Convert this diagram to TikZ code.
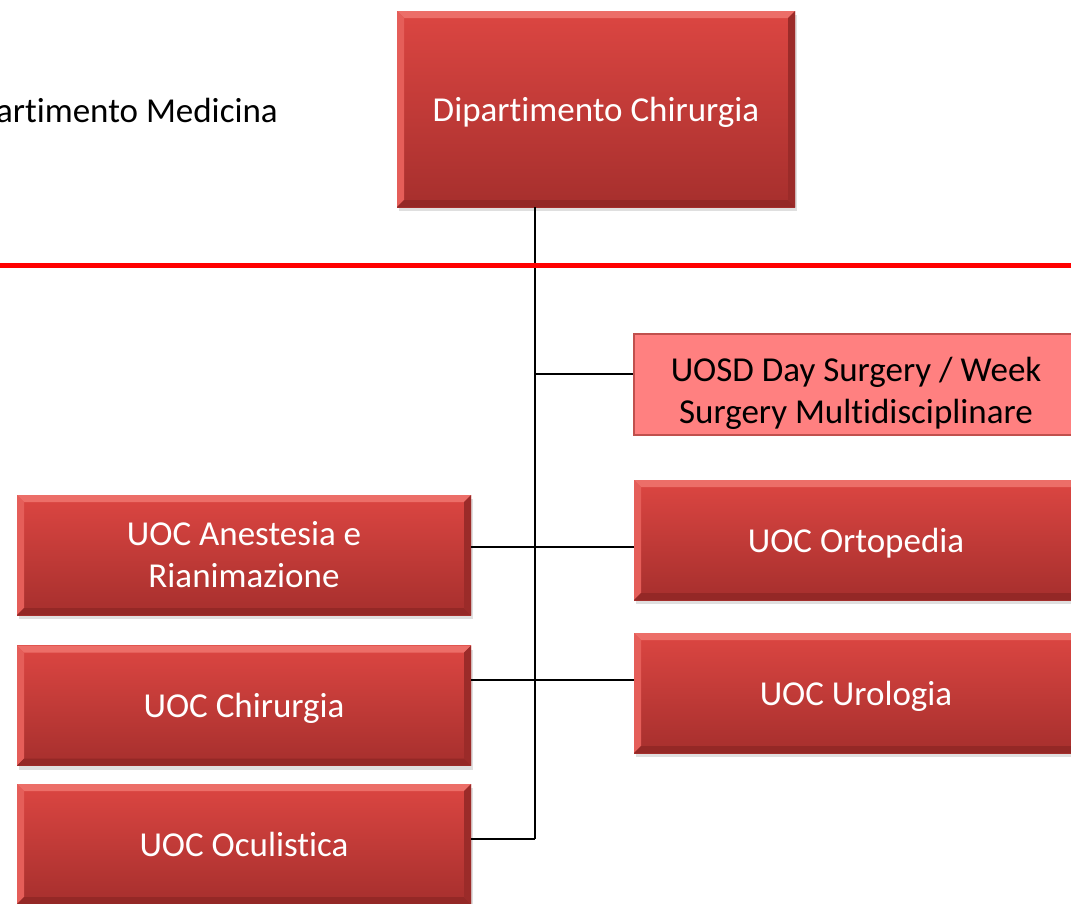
\documentclass[tikz,border=0pt]{standalone}
\usepackage{fontspec}
\setmainfont{Carlito}[Ligatures={NoCommon}]
\usetikzlibrary{shadows}

\definecolor{boxtop}{RGB}{220,70,66}
\definecolor{boxbottom}{RGB}{166,47,45}
\definecolor{bevlight}{RGB}{236,110,104}
\definecolor{bevdark}{RGB}{148,40,38}
\definecolor{uosdfill}{RGB}{255,128,128}
\definecolor{uosdline}{RGB}{192,80,77}

\begin{document}
\begin{tikzpicture}[
    x=1pt, y=-1pt, % pixel grid of the slide, y downwards
    txt/.style={font=\fontsize{35}{42}\selectfont, align=center, inner sep=0pt},
    oneline/.style={text height=24pt, text depth=0pt},
    unit/.style={txt, rectangle, text=white,
        top color=boxtop, bottom color=boxbottom,
        drop shadow={shadow xshift=2pt, shadow yshift=-4pt, opacity=0.25},
        path picture={
            % light bevel on top and left, dark on bottom and right
            \fill[bevlight] (path picture bounding box.north west) -- (path picture bounding box.north east)
                -- ([shift={(-7pt,-7pt)}]path picture bounding box.north east) -- ([shift={(7pt,-7pt)}]path picture bounding box.north west) -- cycle;
            \fill[bevlight!60!boxtop] (path picture bounding box.north west) -- ([shift={(7pt,-7pt)}]path picture bounding box.north west)
                -- ([shift={(7pt,7pt)}]path picture bounding box.south west) -- (path picture bounding box.south west) -- cycle;
            \fill[bevdark] (path picture bounding box.south west) -- (path picture bounding box.south east)
                -- ([shift={(-7pt,7pt)}]path picture bounding box.south east) -- ([shift={(7pt,7pt)}]path picture bounding box.south west) -- cycle;
            \fill[bevdark!60!boxbottom] (path picture bounding box.north east) -- ([shift={(-7pt,-7pt)}]path picture bounding box.north east)
                -- ([shift={(-7pt,7pt)}]path picture bounding box.south east) -- (path picture bounding box.south east) -- cycle;
        }},
    leftunit/.style={unit, minimum width=454pt, minimum height=120pt},
    rightunit/.style={unit, minimum width=444pt, minimum height=120pt},
    link/.style={black, line width=2pt}
]
    \useasboundingbox (0,0) rectangle (1071,903);

    % --- Departments ---
    \node[txt, oneline, anchor=east] (med) at (278,110) {Dipartimento Medicina};
    \node[unit, oneline, minimum width=398pt, minimum height=196pt] (dip) at (596,109) {Dipartimento Chirurgia};

    % --- Units ---
    \node[rectangle, fill=uosdfill, draw=uosdline, line width=2pt,
          minimum width=444pt, minimum height=101pt] (uosd) at (856,384.5) {};
    \node[txt] (uosdtext) at (856,393) {UOSD Day Surgery / Week\\Surgery Multidisciplinare};
    \node[rightunit, oneline] (orto) at (856,540) {UOC Ortopedia};
    \node[rightunit, oneline] (uro) at (856,693) {UOC Urologia};
    \node[leftunit] (anest) at (244,555) {UOC Anestesia e\\Rianimazione};
    \node[leftunit, oneline] (chir) at (244,705.5) {UOC Chirurgia};
    \node[leftunit, oneline] (ocul) at (244,844) {UOC Oculistica};

    % --- Connectors ---
    \coordinate (j1) at (535,374);
    \coordinate (j2) at (535,547);
    \coordinate (j3) at (535,680);
    \coordinate (j4) at (535,839);

    \draw[link] (dip.south -| j1) -- (j4);
    \draw[link] (j1) -- (uosd.west |- j1);
    \draw[link] (anest.east |- j2) -- (orto.west |- j2);
    \draw[link] (chir.east |- j3) -- (uro.west |- j3);
    \draw[link] (ocul.east |- j4) -- (j4);

    % separator, over the trunk
    \draw[red, line width=5pt] (0,265) -- (1071,265);
\end{tikzpicture}
\end{document}
